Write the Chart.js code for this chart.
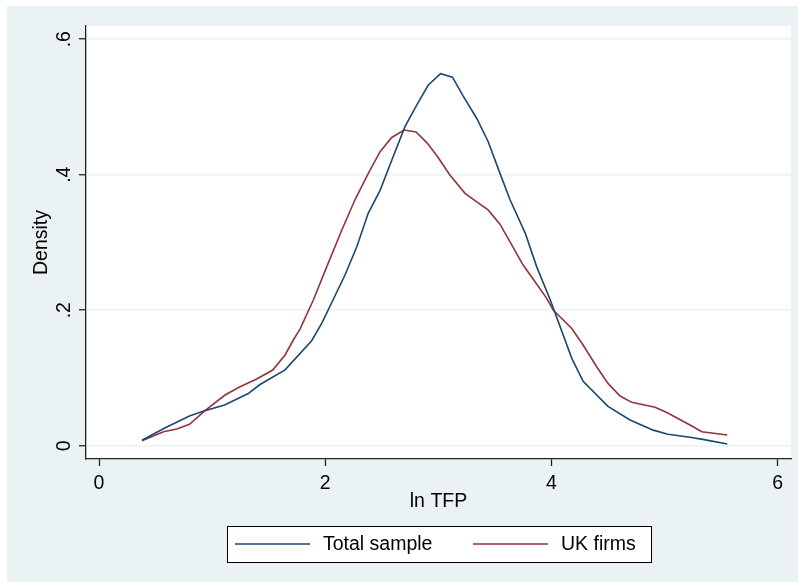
<!DOCTYPE html>
<html lang="en">
<head>
<meta charset="utf-8" />
<title>Kernel density of ln TFP</title>
<script src="https://cdn.jsdelivr.net/npm/chart.js"></script>
<style>
  html, body { margin: 0; padding: 0; background: #fff; }
  #wrap { width: 798px; height: 582px; }
</style>
</head>
<body>
<div id="wrap"><canvas id="myChart" width="798" height="582"></canvas></div>
<script>
// data
const seriesNames = ['Total sample', 'UK firms'];

const totalX = [0.38, 0.59, 0.80, 0.92, 1.11, 1.32, 1.42, 1.645, 1.88, 1.97, 2.175, 2.28, 2.38, 2.485, 2.59, 2.705, 2.81, 2.91, 3.02, 3.125, 3.22, 3.34, 3.44, 3.545, 3.634, 3.77, 3.87, 3.99, 4.18, 4.28, 4.50, 4.695, 4.90, 5.03, 5.225, 5.35, 5.555];
const totalY = [0.008, 0.027, 0.044, 0.051, 0.060, 0.077, 0.090, 0.112, 0.155, 0.181, 0.252, 0.294, 0.343, 0.377, 0.422, 0.471, 0.503, 0.532, 0.549, 0.544, 0.516, 0.483, 0.449, 0.402, 0.363, 0.313, 0.264, 0.215, 0.129, 0.095, 0.058, 0.038, 0.023, 0.017, 0.0124, 0.009, 0.0025];

const ukX = [0.38, 0.57, 0.687, 0.80, 0.937, 1.114, 1.247, 1.394, 1.536, 1.645, 1.718, 1.777, 1.895, 2.013, 2.146, 2.263, 2.381, 2.485, 2.588, 2.697, 2.803, 2.90, 3.00, 3.10, 3.236, 3.34, 3.44, 3.545, 3.65, 3.75, 3.855, 3.958, 4.017, 4.18, 4.28, 4.40, 4.50, 4.607, 4.71, 4.916, 5.02, 5.225, 5.33, 5.555];
const ukY = [0.0074, 0.0207, 0.0246, 0.0316, 0.0517, 0.0748, 0.087, 0.0984, 0.1117, 0.134, 0.156, 0.172, 0.215, 0.264, 0.318, 0.363, 0.402, 0.434, 0.455, 0.466, 0.463, 0.447, 0.425, 0.400, 0.3725, 0.360, 0.348, 0.327, 0.296, 0.2667, 0.242, 0.2175, 0.200, 0.173, 0.1486, 0.1166, 0.092, 0.0734, 0.064, 0.0567, 0.049, 0.0306, 0.0207, 0.0158];

const xTicks = [0, 2, 4, 6];
const yTicks = [0, 0.2, 0.4, 0.6];
const yTickLabels = ['0', '.2', '.4', '.6'];

const FONT = '"Liberation Sans", Arial, sans-serif';
const BG = '#eaf2f3';
const NAVY = '#1a476f';
const MAROON = '#90353b';
const AXIS = '#222';

function pairs(xs, ys) {
  return xs.map((x, i) => ({ x: x, y: ys[i] }));
}

// grey graph region, white plot region, rotated y labels, boxed legend
const stataLook = {
  id: 'stataLook',
  beforeDraw(chart) {
    const { ctx, chartArea: a } = chart;
    ctx.save();
    ctx.fillStyle = '#fff';
    ctx.fillRect(0, 0, chart.width, chart.height);
    ctx.fillStyle = BG;
    ctx.fillRect(7, 6, chart.width - 7, chart.height - 6);
    ctx.fillStyle = '#fff';
    ctx.fillRect(a.left, a.top, a.right - a.left, a.bottom - a.top);
    ctx.restore();
  },
  afterDraw(chart) {
    const { ctx } = chart;
    const ys = chart.scales.y;
    ctx.save();
    ctx.font = '19.5px ' + FONT;
    ctx.fillStyle = '#000';
    ctx.textAlign = 'center';
    ctx.textBaseline = 'alphabetic';
    yTicks.forEach((v, i) => {
      const py = ys.getPixelForValue(v);
      ctx.save();
      ctx.translate(70, py);
      ctx.rotate(-Math.PI / 2);
      ctx.fillText(yTickLabels[i], 0, 0);
      ctx.restore();
    });

    // legend box
    const bx = 227, by = 526, bw = 424, bh = 36;
    ctx.fillStyle = '#fff';
    ctx.fillRect(bx, by, bw, bh);
    ctx.strokeStyle = '#000';
    ctx.lineWidth = 1;
    ctx.strokeRect(bx + 0.5, by + 0.5, bw, bh);
    const cy = by + bh / 2;
    const items = [
      { x: 235, tx: 323 },
      { x: 473, tx: 561 }
    ];
    ctx.textAlign = 'left';
    ctx.textBaseline = 'middle';
    chart.data.datasets.forEach((ds, i) => {
      const it = items[i];
      ctx.strokeStyle = ds.borderColor;
      ctx.lineWidth = 1.6;
      ctx.beginPath();
      ctx.moveTo(it.x, cy);
      ctx.lineTo(it.x + 75, cy);
      ctx.stroke();
      ctx.fillStyle = '#000';
      ctx.fillText(ds.label, it.tx, cy + 1);
    });
    ctx.restore();
  }
};

const config = {
  type: 'scatter',
  data: {
    datasets: [
      {
        label: seriesNames[0],
        data: pairs(totalX, totalY),
        showLine: true,
        borderColor: NAVY,
        backgroundColor: NAVY,
        borderWidth: 1.6,
        pointRadius: 0,
        tension: 0
      },
      {
        label: seriesNames[1],
        data: pairs(ukX, ukY),
        showLine: true,
        borderColor: MAROON,
        backgroundColor: MAROON,
        borderWidth: 1.6,
        pointRadius: 0,
        tension: 0
      }
    ]
  },
  options: {
    responsive: false,
    animation: false,
    events: [],
    layout: { padding: { left: 0, top: 26, right: 7, bottom: 0 } },
    plugins: {
      legend: { display: false },
      tooltip: { enabled: false }
    },
    scales: {
      x: {
        type: 'linear',
        min: -0.115,
        max: 6.118,
        afterBuildTicks(scale) { scale.ticks = xTicks.map(v => ({ value: v })); },
        afterFit(scale) { scale.height = 123; },
        border: { display: true, color: AXIS, width: 1.3 },
        grid: { drawOnChartArea: false, drawTicks: true, tickLength: 7, tickColor: AXIS, tickWidth: 1.3 },
        ticks: {
          color: '#000',
          font: { family: FONT, size: 19.5 },
          padding: 6,
          maxRotation: 0,
          callback: v => String(v)
        },
        title: {
          display: true,
          text: 'ln TFP',
          color: '#000',
          font: { family: FONT, size: 19.5 },
          padding: { top: 0, bottom: 68.6 }
        }
      },
      y: {
        type: 'linear',
        min: -0.0196,
        max: 0.6195,
        afterBuildTicks(scale) { scale.ticks = yTicks.map(v => ({ value: v })); },
        afterFit(scale) { scale.width = 86; },
        border: { display: true, color: AXIS, width: 1.3 },
        grid: { color: BG, lineWidth: 1.5, drawTicks: true, tickLength: 7, tickColor: AXIS, tickWidth: 1.3 },
        ticks: {
          color: 'rgba(0,0,0,0)',
          font: { family: FONT, size: 19.5 },
          padding: 4
        },
        title: {
          display: true,
          text: 'Density',
          color: '#000',
          font: { family: FONT, size: 19.5 },
          padding: { top: 30, bottom: 0 }
        }
      }
    }
  },
  plugins: [stataLook]
};

const myChart = new Chart(document.getElementById('myChart'), config);
</script>
</body>
</html>
